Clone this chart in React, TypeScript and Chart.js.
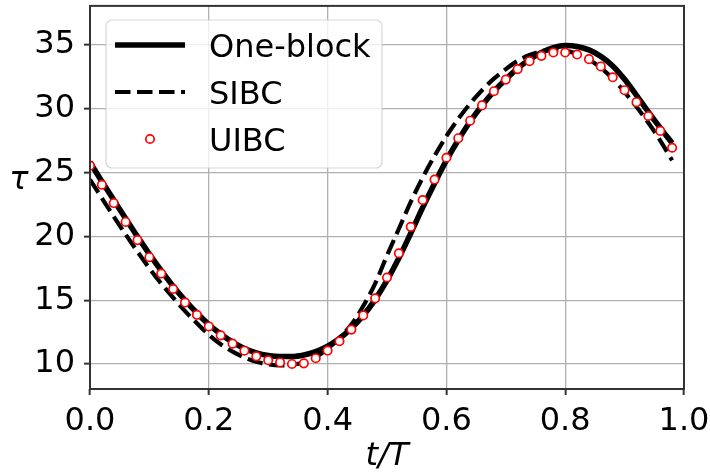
import React, { useEffect, useRef } from "react";
import { Chart, registerables } from "chart.js";

Chart.register(...registerables);

const tValues = [
  0.0, 0.02, 0.04, 0.06, 0.08, 0.1, 0.12, 0.14, 0.16, 0.18,
  0.2, 0.22, 0.24, 0.26, 0.28, 0.3, 0.32, 0.34, 0.36, 0.38,
  0.4, 0.42, 0.44, 0.46, 0.48, 0.5, 0.52, 0.54, 0.56, 0.58,
  0.6, 0.62, 0.64, 0.66, 0.68, 0.7, 0.72, 0.74, 0.76, 0.78,
  0.8, 0.82, 0.84, 0.86, 0.88, 0.9, 0.92, 0.94, 0.96, 0.98,
];

const oneBlock = [
  25.8, 24.3, 22.85, 21.4, 19.98, 18.62, 17.32, 16.1, 15.0, 14.0,
  13.1, 12.35, 11.72, 11.22, 10.88, 10.68, 10.6, 10.6, 10.72, 10.98,
  11.4, 12.0, 12.8, 13.8, 15.05, 16.55, 18.3, 20.25, 22.25, 24.15,
  25.95, 27.55, 29.0, 30.25, 31.35, 32.3, 33.15, 33.85, 34.4, 34.78,
  34.95, 34.88, 34.6, 34.1, 33.35, 32.3, 31.05, 29.75, 28.5, 27.3,
];

const sibc = [
  24.45, 23.0, 21.55, 20.15, 18.8, 17.5, 16.3, 15.2, 14.15, 13.2,
  12.3, 11.55, 10.98, 10.52, 10.18, 9.98, 9.9, 9.95, 10.15, 10.55,
  11.2, 12.05, 13.1, 14.55, 16.3, 18.5, 20.6, 22.7, 24.6, 26.3,
  27.85, 29.2, 30.4, 31.45, 32.35, 33.1, 33.75, 34.2, 34.5, 34.65,
  34.55, 34.3, 33.85, 33.2, 32.35, 31.3, 30.15, 28.9, 27.5, 25.95,
];

const uibc = [
  25.54, 24.04, 22.61, 21.13, 19.71, 18.37, 17.09, 15.88, 14.82, 13.86,
  12.95, 12.25, 11.6, 11.05, 10.61, 10.3, 10.13, 10.01, 10.06, 10.46,
  11.06, 11.79, 12.7, 13.81, 15.15, 16.78, 18.68, 20.75, 22.85, 24.45,
  26.16, 27.69, 29.06, 30.26, 31.37, 32.28, 33.1, 33.72, 34.14, 34.4,
  34.4, 34.24, 33.88, 33.31, 32.46, 31.45, 30.51, 29.43, 28.26, 26.94,
];

const seriesLabels = ["One-block", "SIBC", "UIBC"];
const xTicks = [0.0, 0.2, 0.4, 0.6, 0.8, 1.0];
const yTicks = [10, 15, 20, 25, 30, 35];
const xLabel = "t/T";
const yLabel = "τ";

const FONT = '"DejaVu Sans", sans-serif';
const SOLID_W = 5.6;
const DASH_W = 4.2;
const DASH = [15.5, 6.5];

const decorPlugin = {
  id: "decor",
  afterDraw(chart: any) {
    const ctx = chart.ctx as CanvasRenderingContext2D;
    const a = chart.chartArea;
    ctx.save();
    // frame
    ctx.strokeStyle = "#333333";
    ctx.lineWidth = 2;
    ctx.setLineDash([]);
    ctx.strokeRect(a.left, a.top, a.right - a.left, a.bottom - a.top);

    // legend
    const bx = 106, by = 20, bw = 276, bh = 148;
    ctx.beginPath();
    ctx.roundRect(bx, by, bw, bh, 6);
    ctx.fillStyle = "rgba(255,255,255,0.8)";
    ctx.fill();
    ctx.strokeStyle = "rgba(204,204,204,0.8)";
    ctx.lineWidth = 1.2;
    ctx.stroke();

    const rows = [45, 92, 139];
    const ds = chart.data.datasets;
    ctx.font = `32px ${FONT}`;
    ctx.textAlign = "left";
    ctx.textBaseline = "alphabetic";
    ctx.fillStyle = "#000";
    // solid
    ctx.beginPath();
    ctx.strokeStyle = ds[0].borderColor;
    ctx.lineWidth = SOLID_W;
    ctx.moveTo(115, rows[0]);
    ctx.lineTo(185, rows[0]);
    ctx.stroke();
    // dashed
    ctx.beginPath();
    ctx.setLineDash(DASH);
    ctx.strokeStyle = ds[1].borderColor;
    ctx.lineWidth = DASH_W;
    ctx.moveTo(115, rows[1]);
    ctx.lineTo(185, rows[1]);
    ctx.stroke();
    ctx.setLineDash([]);
    // marker
    ctx.beginPath();
    ctx.arc(150, rows[2], 4.2, 0, Math.PI * 2);
    ctx.fillStyle = "#fff";
    ctx.fill();
    ctx.strokeStyle = "#ff0000";
    ctx.lineWidth = 1.7;
    ctx.stroke();
    ctx.fillStyle = "#000";
    for (let i = 0; i < 3; i++) {
      ctx.fillText(ds[i].label, 209, rows[i] + 11.5);
    }

    // axis titles
    ctx.font = `italic 32px ${FONT}`;
    ctx.textAlign = "center";
    ctx.fillText(xLabel, (a.left + a.right) / 2, 465);
    ctx.fillText(yLabel, 19, 189);
    ctx.restore();
  },
};

export default function App() {
  const ref = useRef<HTMLCanvasElement>(null);
  useEffect(() => {
    const canvas = ref.current;
    if (!canvas) return;
    const mk = (arr: number[]) => tValues.map((t, i) => ({ x: t, y: arr[i] }));
    const chart = new Chart(canvas, {
      type: "line",
      data: {
        datasets: [
          {
            label: seriesLabels[0],
            data: mk(oneBlock),
            borderColor: "#000000",
            borderWidth: SOLID_W,
            pointRadius: 0,
            cubicInterpolationMode: "monotone",
            fill: false,
            order: 3,
          },
          {
            label: seriesLabels[1],
            data: mk(sibc),
            borderColor: "#000000",
            borderWidth: DASH_W,
            borderDash: DASH,
            pointRadius: 0,
            cubicInterpolationMode: "monotone",
            fill: false,
            order: 2,
          },
          {
            label: seriesLabels[2],
            data: mk(uibc),
            showLine: false,
            pointRadius: 4.2,
            pointBorderWidth: 1.7,
            pointBorderColor: "#ff0000",
            pointBackgroundColor: "#ffffff",
            borderColor: "#ff0000",
            fill: false,
            order: 1,
          },
        ],
      } as any,
      options: {
        animation: false,
        responsive: false,
        events: [],
        layout: { padding: { top: 3, right: 26, left: 0, bottom: 0 } },
        scales: {
          x: {
            type: "linear",
            min: 0,
            max: 1,
            afterBuildTicks: (s: any) => {
              s.ticks = xTicks.map((v) => ({ value: v }));
            },
            afterFit: (s: any) => {
              s.height = 85;
              s.paddingLeft = 0;
              s.paddingRight = 0;
            },
            ticks: {
              font: { family: FONT, size: 32 },
              color: "#000",
              padding: 7,
              maxRotation: 0,
              autoSkip: false,
              callback: (v: any) => Number(v).toFixed(1),
            },
            grid: {
              color: "#b0b0b0",
              lineWidth: 1.3,
              tickLength: 6,
              tickColor: "#333333",
              tickWidth: 2,
            },
            border: { display: false },
          },
          y: {
            type: "linear",
            min: 8.05,
            max: 38.05,
            afterBuildTicks: (s: any) => {
              s.ticks = yTicks.map((v) => ({ value: v }));
            },
            afterFit: (s: any) => {
              s.width = 90;
              s.paddingTop = 0;
              s.paddingBottom = 0;
            },
            ticks: {
              font: { family: FONT, size: 32 },
              color: "#000",
              padding: 9,
              autoSkip: false,
              callback: (v: any) => String(v),
            },
            grid: {
              color: "#b0b0b0",
              lineWidth: 1.3,
              tickLength: 6,
              tickColor: "#333333",
              tickWidth: 2,
            },
            border: { display: false },
          },
        },
        plugins: {
          legend: { display: false },
          tooltip: { enabled: false },
          title: { display: false },
        },
      } as any,
      plugins: [decorPlugin],
    });
    return () => chart.destroy();
  }, []);
  return (
    <div style={{ position: "absolute", left: 0, top: 0, width: 710, height: 474, background: "#fff" }}>
      <canvas ref={ref} width={710} height={474} style={{ display: "block" }} />
    </div>
  );
}
